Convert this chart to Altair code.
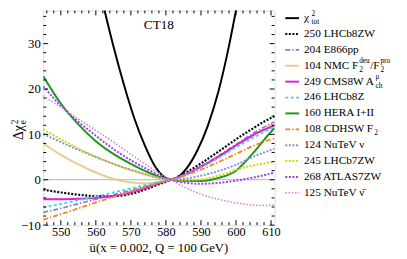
import altair as alt
import pandas as pd

# ---------------- data ----------------
x_grid = [545, 550, 555, 560, 565, 570, 575, 578, 581.5, 585, 590, 595, 600, 605, 608, 611]

chi_tot_x = [560, 562.5, 565, 568, 571, 574, 577, 579.5, 581.3, 583.5, 586, 589, 592, 595, 598, 600, 601.5]
chi_tot_y = [46.0, 37.3, 29.5, 21.0, 13.5, 7.5, 2.8, 0.6, 0.0, 0.6, 2.6, 6.5, 12.0, 19.5, 29.5, 37.3, 43.0]

lhcb8zw_250 = [-2.2, -2.8, -3.3, -3.6, -3.6, -3.1, -1.9, -1.0, 0.0, 1.3, 3.6, 6.2, 8.9, 11.4, 12.8, 14.0]
e866pp_204 = [-7.2, -6.3, -5.3, -4.3, -3.3, -2.3, -1.3, -0.6, 0.0, 1.0, 3.0, 5.3, 7.8, 10.3, 11.6, 12.8]
nmc_104 = [8.0, 5.5, 3.4, 1.6, 0.2, -0.6, -0.8, -0.5, 0.0, 1.0, 2.8, 5.0, 7.4, 9.8, 11.2, 12.5]
cms8w_249 = [-4.3, -4.3, -4.2, -4.0, -3.6, -2.8, -1.6, -0.8, 0.0, 1.0, 2.9, 5.1, 7.6, 9.9, 11.0, 12.0]
lhcb8z_246 = [-6.1, -5.3, -4.5, -3.7, -2.8, -1.9, -1.0, -0.5, 0.0, 0.9, 2.7, 4.8, 7.1, 9.3, 10.5, 11.7]
hera_160 = [22.8, 16.8, 12.2, 8.5, 5.7, 3.5, 1.6, 0.7, 0.0, -0.3, -0.3, 0.4, 2.0, 6.0, 8.8, 11.4]
cdhsw_108 = [-8.8, -7.6, -6.3, -5.0, -3.8, -2.6, -1.4, -0.7, 0.0, 0.8, 2.2, 3.9, 5.7, 7.5, 8.4, 9.1]
nutev_nu_124 = [10.1, 8.3, 6.6, 5.0, 3.5, 2.2, 1.0, 0.4, 0.0, 0.2, 0.9, 1.9, 3.3, 5.1, 6.0, 6.9]
lhcb7zw_245 = [11.1, 8.9, 6.9, 5.1, 3.5, 2.1, 1.0, 0.4, 0.0, -0.2, 0.0, 0.9, 2.2, 3.2, 3.6, 4.0]
atlas7zw_268 = [20.6, 16.3, 12.8, 9.7, 6.8, 4.3, 2.2, 1.0, 0.0, -0.6, -0.9, -0.7, -0.2, 0.5, 1.0, 1.6]
nutev_nubar_125 = [18.5, 16.0, 13.4, 10.9, 8.3, 5.6, 3.0, 1.5, 0.0, -1.5, -3.2, -4.3, -5.1, -5.6, -5.7, -5.5]

x_ticks = [550, 560, 570, 580, 590, 600, 610]
x_minor = [546, 548, 552, 554, 556, 558, 562, 564, 566, 568, 572, 574, 576, 578,
           582, 584, 586, 588, 592, 594, 596, 598, 602, 604, 606, 608]
y_ticks = [-10, 0, 10, 20, 30]
y_minor = [-8, -6, -4, -2, 2, 4, 6, 8, 12, 14, 16, 18, 22, 24, 26, 28, 32, 34, 36]

x_domain = [545, 611]
y_domain = [-10, 37.3]

# ---------------- styles ----------------
W, H = 236, 219
FONT = "Liberation Serif"

series = [
    # (x, y, color, dash, width, opacity, legend tokens)
    (chi_tot_x, chi_tot_y, "#000000", None, 2.0, 1.0, [("n", "χ"), ("ss", "tot", "2")]),
    (x_grid, lhcb8zw_250, "#000000", [2, 1.6], 2.2, 1.0, [("n", "250 LHCb8ZW")]),
    (x_grid, e866pp_204, "#7b7bd2", [5, 2, 1.5, 2], 1.6, 1.0, [("n", "204 E866pp")]),
    (x_grid, nmc_104, "#e2c677", None, 2.0, 0.85,
     [("n", "104 NMC F"), ("ss", "2", "deu"), ("n", "/F"), ("ss", "2", "pro")]),
    (x_grid, cms8w_249, "#e01ae0", None, 2.0, 1.0, [("n", "249 CMS8W A"), ("ss", "ch", "μ")]),
    (x_grid, lhcb8z_246, "#3ad6e0", [3, 2.5], 1.8, 1.0, [("n", "246 LHCb8Z")]),
    (x_grid, hera_160, "#1a981a", None, 2.0, 1.0, [("n", "160 HERA I+II")]),
    (x_grid, cdhsw_108, "#f5801e", [5, 2, 1.5, 2], 1.8, 1.0, [("n", "108 CDHSW F"), ("ss", "2", "")]),
    (x_grid, nutev_nu_124, "#8c8ce0", [2, 1.6], 2.0, 1.0, [("n", "124 NuTeV ν")]),
    (x_grid, lhcb7zw_245, "#d4d40c", [2, 1.6], 2.0, 1.0, [("n", "245 LHCb7ZW")]),
    (x_grid, atlas7zw_268, "#a03cf0", [2, 1.6], 2.0, 1.0, [("n", "268 ATLAS7ZW")]),
    (x_grid, nutev_nubar_125, "#d27cd2", [1.5, 1.8], 1.5, 1.0, [("n", "125 NuTeV ν\u0304")]),
]

CW = {' ': 0.25, 'A': 0.722, 'B': 0.667, 'C': 0.667, 'D': 0.722, 'E': 0.611, 'F': 0.556,
      'H': 0.722, 'I': 0.333, 'L': 0.611, 'M': 0.889, 'N': 0.722, 'R': 0.667, 'S': 0.556,
      'T': 0.611, 'V': 0.722, 'W': 0.944, 'Z': 0.611, 'b': 0.5, 'c': 0.444, 'd': 0.5,
      'e': 0.444, 'h': 0.5, 'o': 0.5, 'p': 0.5, 'r': 0.333, 't': 0.278, 'u': 0.5, 'v': 0.5,
      '+': 0.564, '/': 0.278, 'χ': 0.6, 'μ': 0.5, 'ν': 0.46}


def text_w(s, fs):
    return sum(CW.get(c, 0.5) for c in s) * fs


xscale = alt.Scale(domain=x_domain, nice=False, zero=False)
yscale = alt.Scale(domain=y_domain, nice=False, zero=False)
xaxis = alt.Axis(values=x_ticks, title=None, grid=False, domain=False, ticks=False,
                 tickSize=0, labelPadding=1, labelFont=FONT, labelFontSize=12.5,
                 labelColor="black", labelFlush=False)
yaxis = alt.Axis(values=y_ticks, title=None, grid=False, domain=False, ticks=False,
                 tickSize=0, labelPadding=3, labelFont=FONT, labelFontSize=13,
                 labelColor="black", labelFlush=False)


def X(f):
    return alt.X(f, scale=xscale, axis=xaxis)


def Y(f):
    return alt.Y(f, scale=yscale, axis=yaxis)


one = pd.DataFrame({"a": [0]})
layers = []

# zero line
layers.append(alt.Chart(pd.DataFrame({"y": [0]})).mark_rule(color="#b4b4b4", strokeWidth=1)
              .encode(y=Y("y:Q")))

# curves
for xs, ys, col, dash, sw, op, _ in series:
    kw = dict(clip=True, interpolate="monotone", color=col, strokeWidth=sw, opacity=op)
    if dash:
        kw["strokeDash"] = dash
    layers.append(alt.Chart(pd.DataFrame({"x": xs, "y": ys})).mark_line(**kw)
                  .encode(x=X("x:Q"), y=Y("y:Q")))

# inward ticks on all four sides
for vals, ln in ((x_ticks, 5), (x_minor, 3)):
    d = pd.DataFrame({"v": vals})
    layers.append(alt.Chart(d).mark_rule(color="black", strokeWidth=1)
                  .encode(x=X("v:Q"), y=alt.value(H), y2=alt.value(H - ln)))
    layers.append(alt.Chart(d).mark_rule(color="black", strokeWidth=1)
                  .encode(x=X("v:Q"), y=alt.value(0), y2=alt.value(ln)))
for vals, ln in ((y_ticks, 5), (y_minor, 3)):
    d = pd.DataFrame({"v": vals})
    layers.append(alt.Chart(d).mark_rule(color="black", strokeWidth=1)
                  .encode(y=Y("v:Q"), x=alt.value(0), x2=alt.value(ln)))
    layers.append(alt.Chart(d).mark_rule(color="black", strokeWidth=1)
                  .encode(y=Y("v:Q"), x=alt.value(W), x2=alt.value(W - ln)))

# CT18 label
layers.append(alt.Chart(pd.DataFrame({"x": [578], "y": [34.0], "t": ["CT18"]}))
              .mark_text(font=FONT, fontSize=13.5, color="black", baseline="middle", align="center")
              .encode(x=X("x:Q"), y=Y("y:Q"), text="t:N"))

# legend
FS, FSS = 11.5, 7.5
LX0, LX1, TX = 247, 261, 266
for i, (_, _, col, dash, sw, op, toks) in enumerate(series):
    py = 7.8 + 16.2 * i
    kw = dict(color=col, strokeWidth=sw, opacity=op)
    if dash:
        kw["strokeDash"] = dash
    layers.append(alt.Chart(one).mark_rule(**kw)
                  .encode(x=alt.value(LX0), x2=alt.value(LX1), y=alt.value(py)))
    cx = TX
    for tok in toks:
        if tok[0] == "n":
            layers.append(alt.Chart(one).mark_text(font=FONT, fontSize=FS, color="black",
                                                   align="left", baseline="middle")
                          .encode(x=alt.value(cx), y=alt.value(py), text=alt.value(tok[1])))
            cx += text_w(tok[1], FS)
        else:
            sub, sup = tok[1], tok[2]
            if sub:
                layers.append(alt.Chart(one).mark_text(font=FONT, fontSize=FSS, color="black",
                                                       align="left", baseline="middle")
                              .encode(x=alt.value(cx + 0.8), y=alt.value(py + 4.3),
                                      text=alt.value(sub)))
            if sup:
                layers.append(alt.Chart(one).mark_text(font=FONT, fontSize=FSS, color="black",
                                                       align="left", baseline="middle")
                              .encode(x=alt.value(cx + 0.8), y=alt.value(py - 4.4),
                                      text=alt.value(sup)))
            cx += max(text_w(sub, FSS), text_w(sup, FSS)) + 1.2

# axis titles
layers.append(alt.Chart(one).mark_text(font=FONT, fontSize=13, color="black",
                                       align="center", baseline="alphabetic")
              .encode(x=alt.value(W / 2), y=alt.value(246),
                      text=alt.value("u\u0304(x = 0.002, Q = 100 GeV)")))
YT_X, YT_Y = -25, 117
layers.append(alt.Chart(one).mark_text(font=FONT, fontSize=14, color="black", angle=270,
                                       align="right", baseline="middle")
              .encode(x=alt.value(YT_X), y=alt.value(YT_Y), text=alt.value("Δχ")))
layers.append(alt.Chart(one).mark_text(font=FONT, fontSize=9.5, color="black", angle=270,
                                       align="left", baseline="middle", dx=1, dy=-4)
              .encode(x=alt.value(YT_X), y=alt.value(YT_Y), text=alt.value("2")))
layers.append(alt.Chart(one).mark_text(font=FONT, fontSize=9.5, color="black", angle=270,
                                       align="left", baseline="middle", dx=1, dy=4)
              .encode(x=alt.value(YT_X), y=alt.value(YT_Y), text=alt.value("e")))

chart = alt.layer(*layers).properties(
    width=W, height=H,
    padding={"left": 36, "top": 0, "right": 127, "bottom": 31},
    autosize=alt.AutoSizeParams(type="none"),
).configure_view(stroke="black", strokeWidth=1).configure(background="white")

chart.save("out.html", embed_options={"renderer": "svg", "actions": False})
